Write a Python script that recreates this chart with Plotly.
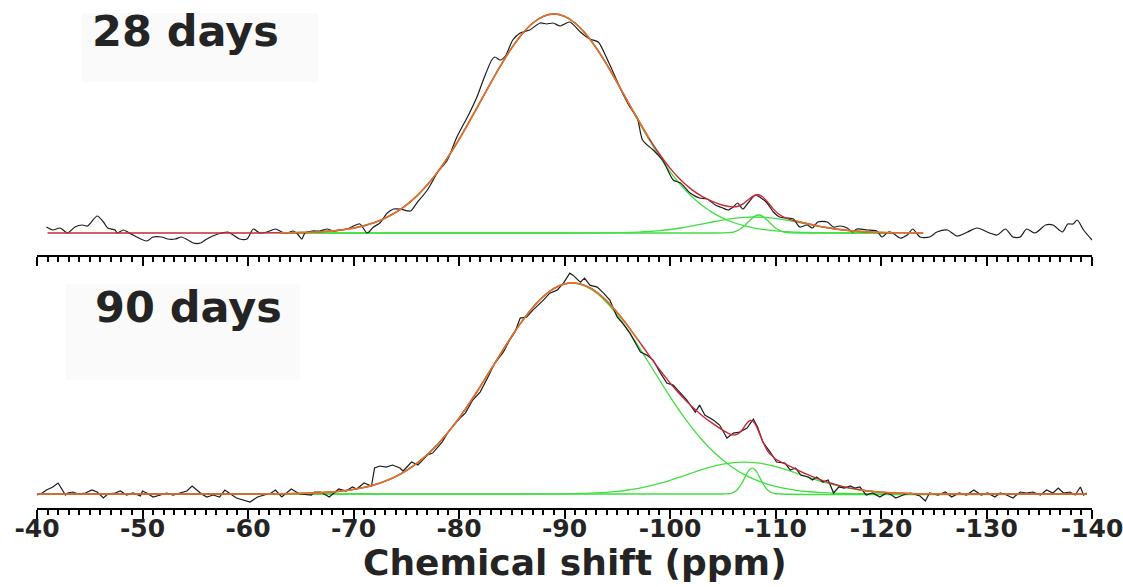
import plotly.graph_objects as go

# ---------------- 28 days (top panel) ----------------
exp28_ppm = [-40.9, -41.5, -42.2, -42.9, -43.6, -44.3, -44.8, -45.7, -46.3, -46.7, -47.4, -47.6, -48.2, -48.6,
             -49.1, -50.4, -51.0, -51.8, -52.4, -53.1, -53.7, -54.3, -54.8, -55.5, -56.1, -56.9, -57.5, -58.1,
             -58.6, -59.2, -59.9, -60.5, -61.1, -61.8, -62.6, -63.2, -63.7, -64.3, -64.7, -65.1, -65.4, -66.1,
             -66.8, -67.5, -68.1, -68.7, -69.4, -70.0, -70.6, -71.3, -71.9, -72.5, -73.2, -73.8, -74.4, -75.4,
             -76.0, -77.0, -78.0, -78.9, -79.8, -80.9, -81.7, -82.3, -83.1, -83.4, -83.9, -84.4, -85.1, -85.8,
             -86.7, -87.7, -88.3, -88.9, -89.6, -90.5, -91.5, -92.4, -93.2, -94.0, -94.6, -95.5, -96.2, -96.9,
             -97.4, -98.4, -99.3, -100.3, -101.0, -101.9, -102.8, -103.5, -104.3, -105.0, -105.5, -106.0, -106.4,
             -106.9, -107.4, -108.1, -108.5, -109.2, -109.8, -110.4, -111.1, -111.7, -112.3, -113.0, -113.5,
             -114.0, -114.9, -115.5, -116.1, -116.8, -117.3, -117.7, -118.7, -119.6, -120.1, -120.7, -121.1,
             -121.8, -122.5, -123.0, -123.7, -124.6, -125.3, -126.3, -127.2, -128.2, -129.1, -130.3, -131.0,
             -131.8, -132.5, -133.2, -133.8, -134.6, -135.6, -136.3, -137.2, -137.7, -138.2, -138.6, -139.2, -140.0]
exp28_int = [6, 3, 5, 0, 6, 8, 7, 17, 11, 5, 3, 0, 3, 1,
             -2, -8, -4, -4, -6, -6, -4, -7, -10, -10, -6, -2, 0, 1,
             -2, -6, -6, 4, 0, 1, 4, 1, 0, 2, -1, -6, 0, 2,
             2, 4, 2, 3, 4, 7, 9, 0, 6, 10, 20, 24, 24, 22,
             30, 43, 61, 73, 96, 118, 136, 153, 173, 176, 173, 177, 193, 200,
             203, 210, 209, 210, 207, 211, 201, 194, 191, 175, 161, 140, 126, 115,
             93, 83, 73, 53, 50, 40, 35, 34, 28, 25, 23, 26, 30,
             24, 30, 38, 36, 30, 21, 16, 15, 14, 6, 8, 5,
             11, 11, 6, 7, 5, 1, 4, 3, 2, -4, 1, 0,
             -5, -2, 4, -4, -4, 1, 3, -3, 1, 5, 0, -2,
             4, -4, -4, 4, 0, 8, 8, 1, 9, 9, 13, 3, -7]

fit28_ppm = [-41, -50, -60, -63, -64, -65, -66, -67, -68, -69, -70, -71, -72, -73, -74, -75, -76, -77, -78,
             -79, -80, -81, -82, -83, -84, -85, -86, -87, -88, -89, -90, -91, -92, -93, -94, -95, -96, -97,
             -98, -99, -100, -101, -102, -103, -104, -105, -106, -106.5, -107, -107.5, -108, -108.4, -108.8,
             -109.3, -109.8, -110.3, -111, -112, -113, -114, -115, -116, -117, -118, -119, -120, -121, -122,
             -123, -124]
fit28_int = [0, 0, 0, 0.2, 0.3, 0.5, 0.8, 1.4, 2.1, 3.3, 4.9, 7.3, 10.5, 14.9, 20.6, 27.9, 37.1, 48.2, 61.4,
             76.6, 93.5, 111.9, 130.9, 150.0, 168.4, 185.1, 199.2, 210.0, 216.7, 219.0, 216.7, 210.0, 199.2,
             185.2, 168.6, 150.3, 131.4, 112.8, 95.0, 79.0, 64.9, 53.2, 43.9, 36.8, 31.6, 27.8, 26.1, 27.0,
             29.7, 34.0, 37.5, 38.2, 36.0, 30.3, 23.9, 19.0, 14.9, 11.8, 9.4, 7.1, 5.2, 3.6, 2.4, 1.5, 0.9,
             0.5, 0.3, 0.2, 0.1, 0]

q3_28_ppm = [-63, -65, -67, -68, -69, -70, -71, -72, -73, -74, -75, -76, -77, -78, -79, -80, -81, -82, -83,
             -84, -85, -86, -87, -88, -89, -90, -91, -92, -93, -94, -95, -96, -97, -98, -99, -100, -101, -102,
             -103, -104, -105, -106, -107, -108, -109, -110, -111, -112, -113, -114, -116, -118, -121]
q3_28_int = [0.2, 0.5, 1.4, 2.1, 3.3, 4.9, 7.3, 10.5, 14.9, 20.6, 27.9, 37.1, 48.2, 61.4, 76.6, 93.5, 111.9,
             130.9, 150.0, 168.4, 185.1, 199.2, 210.0, 216.7, 219.0, 216.7, 210.0, 199.2, 185.1, 168.4, 150.0,
             130.9, 111.9, 93.5, 76.6, 61.4, 48.2, 37.1, 27.9, 20.6, 14.9, 10.5, 7.3, 4.9, 3.3, 2.1, 1.4, 0.8,
             0.5, 0.3, 0.1, 0, 0]

q4b_28_ppm = [-63, -90, -93, -95, -96, -97, -98, -99, -100, -101, -102, -103, -104, -105, -106, -107, -108,
              -109, -110, -111, -112, -113, -114, -115, -116, -117, -118, -119, -120, -121]
q4b_28_int = [0, 0, 0.1, 0.3, 0.5, 0.9, 1.5, 2.4, 3.5, 5.0, 6.8, 8.9, 11.0, 12.9, 14.6, 15.6, 16.0,
              15.6, 14.6, 12.9, 11.0, 8.9, 6.8, 5.0, 3.5, 2.4, 1.5, 0.9, 0.5, 0.3]

q4n_28_ppm = [-63, -104, -105.5, -106, -106.5, -107, -107.5, -108, -108.4, -108.8, -109.3, -109.8, -110.3,
              -110.8, -111.5, -113, -121]
q4n_28_int = [0, 0, 0.3, 1.0, 3.0, 6.8, 12.0, 16.6, 18.0, 16.6, 12.0, 6.8, 3.0, 1.0, 0.2, 0, 0]

# ---------------- 90 days (bottom panel) ----------------
exp90_ppm = [-40.0, -40.5, -40.9, -41.5, -42.0, -42.4, -42.7, -42.9, -43.4, -43.9, -44.6, -45.2, -45.7, -46.3,
             -46.7, -47.4, -47.9, -48.5, -49.1, -49.8, -50.0, -50.4, -51.0, -51.7, -52.3, -52.9, -53.6, -54.2,
             -54.7, -55.2, -55.6, -56.1, -56.7, -57.3, -57.8, -58.9, -60.2, -60.9, -62.2, -62.6, -63.2, -64.1,
             -64.9, -66.0, -66.3, -66.9, -67.7, -68.6, -69.3, -69.9, -70.3, -71.0, -71.7, -72.0, -72.5, -73.1,
             -73.7, -74.4, -74.7, -75.5, -76.1, -77.0, -77.5, -78.4, -79.1, -80.1, -80.6, -81.3, -82.0, -82.7,
             -83.4, -84.2, -84.8, -85.3, -85.8, -86.4, -87.0, -88.0, -88.6, -89.3, -89.9, -90.5, -90.8, -91.5,
             -91.9, -92.4, -93.1, -93.7, -94.3, -95.0, -95.5, -96.2, -96.9, -97.2, -97.8, -98.4, -99.1, -99.7,
             -100.3, -101.0, -101.6, -102.4, -102.8, -103.3, -104.1, -104.7, -105.4, -106.0, -106.6, -107.3,
             -107.9, -108.3, -108.8, -109.5, -110.1, -110.9, -111.4, -111.9, -112.4, -113.1, -113.5, -113.9,
             -114.5, -115.0, -115.5, -116.0, -116.5, -117.1, -117.5, -118.0, -118.6, -119.2, -119.9, -120.5,
             -121.0, -121.4, -122.1, -122.8, -123.7, -124.2, -124.6, -125.4, -126.1, -126.7, -127.4, -128.1,
             -128.8, -129.5, -130.1, -130.8, -131.3, -131.9, -132.5, -133.2, -133.8, -134.4, -135.1, -135.7,
             -136.3, -136.8, -137.3, -137.9, -138.4, -138.9, -139.2, -139.5]
exp90_int = [-1, 1, 4, 7, 11, 4, -1, 1, 2, 0, 1, 4, 2, -4,
             0, 1, 3, -1, 1, -2, 3, 1, -3, -1, 1, -1, 1, 3,
             8, 4, 0, -3, -1, -3, 4, -4, -8, -3, 1, 4, -3, 5,
             0, -1, 2, 2, -3, 5, 3, 7, 5, 11, 8, 26, 28, 27,
             29, 26, 23, 32, 29, 39, 41, 52, 64, 76, 81, 94, 102, 116,
             131, 142, 154, 162, 176, 177, 184, 194, 201, 204, 211, 221, 219, 212,
             216, 209, 207, 201, 194, 177, 171, 161, 147, 142, 139, 134, 121, 111,
             109, 101, 94, 82, 89, 79, 74, 69, 56, 61, 62, 66,
             75, 67, 52, 42, 32, 31, 24, 26, 19, 17, 14, 17,
             12, 14, 1, 7, 6, 8, 6, 7, -1, 1, -3, 1,
             -1, -4, -1, 1, -2, -7, 1, -1, 2, -3, 1, -1,
             4, -1, 1, -3, 1, -1, -4, 2, 1, 2, -1, 4,
             1, 6, 1, 2, -1, 7, -1, 1]

fit90_ppm = [-40, -50, -60, -62, -64, -66, -67, -68, -69, -70, -71, -72, -73, -74, -75, -76, -77, -78, -79,
             -80, -81, -82, -83, -84, -85, -86, -87, -88, -89, -90, -91, -92, -93, -94, -95, -96, -97, -98,
             -99, -100, -101, -102, -103, -104, -105, -105.8, -106.3, -106.8, -107.3, -107.55, -107.8, -108.05,
             -108.3, -108.8, -109.3, -109.8, -110, -111, -112, -113, -114, -115, -116, -117, -118, -119, -120,
             -121, -122, -123, -124, -125, -130, -139.5]
fit90_int = [0, 0, 0, 0.1, 0.4, 0.9, 1.4, 2.1, 3.2, 4.6, 6.6, 9.3, 12.9, 17.5, 23.4, 30.7, 39.5, 50.0, 62.2,
             75.9, 91.1, 107.3, 124.3, 141.3, 157.9, 173.2, 186.7, 197.7, 205.7, 210.3, 211.2, 208.5, 202.4,
             193.2, 181.6, 168.2, 153.7, 139.0, 124.7, 111.2, 99.0, 88.3, 78.9, 70.9, 63.9, 59.5, 59.4, 63.6,
             71.0, 73.4, 73.3, 70.5, 65.2, 52.4, 42.3, 37.1, 35.0, 29.6, 24.5, 19.7, 15.4, 11.7, 8.6, 6.1,
             4.3, 2.9, 1.8, 1.1, 0.7, 0.4, 0.2, 0.1, 0, 0]

q3_90_ppm = [-40, -60, -62, -64, -66] + [-67 - i for i in range(52)] + [-120, -139.5]
q3_90_int = [0, 0, 0.1, 0.4, 0.9,
             1.4, 2.1, 3.2, 4.6, 6.6, 9.3, 12.9, 17.5, 23.4, 30.7, 39.5, 50.0, 62.2, 75.9, 91.1, 107.3, 124.3,
             141.3, 157.9, 173.2, 186.7, 197.7, 205.6, 210.1, 210.8, 207.8, 201.3, 191.5, 178.9, 164.2, 148.0,
             131.1, 114.1, 97.5, 81.8, 67.5, 54.6, 43.5, 34.0, 26.1, 19.7, 14.6, 10.6, 7.6, 5.3, 3.7, 2.5,
             1.7, 1.1, 0.7, 0.4, 0.3,
             0.1, 0]

q4b_90_ppm = [-40, -86] + [-89 - i for i in range(37)] + [-139.5]
q4b_90_int = [0, 0,
              0.1, 0.2, 0.4, 0.7, 1.1, 1.7, 2.7, 4.0, 5.7, 7.9, 10.6, 13.7, 17.2, 20.8, 24.3, 27.4, 29.9,
              31.5, 32.0, 31.5, 29.9, 27.4, 24.3, 20.8, 17.2, 13.7, 10.6, 7.9, 5.7, 4.0, 2.7, 1.7, 1.1, 0.7,
              0.4, 0.2, 0.1,
              0]

q4n_90_ppm = [-40, -105, -105.8, -106.3, -106.8, -107.3, -107.55, -107.8, -108.05, -108.3, -108.8, -109.3,
              -109.8, -110.5, -139.5]
q4n_90_int = [0, 0, 0.7, 3.5, 10.7, 20.8, 24.6, 26.0, 24.6, 20.8, 10.7, 3.5, 0.7, 0, 0]

x_ticks = [-40, -50, -60, -70, -80, -90, -100, -110, -120, -130, -140]
panel_labels = ["28 days", "90 days"]
x_title = "Chemical shift (ppm)"

# ---------------- styling ----------------
BLACK = "#1c1c1c"
GREEN = "#3fe03f"
RED = "#c8283a"
ORANGE = "#df7330"
TXT = "#242424"
FONT = "DejaVu Sans"


def segment(xs, ys, keep):
    return [y if keep(x) else None for x, y in zip(xs, ys)]


fig = go.Figure()


def add_panel(xa, ya, comps, exp_x, exp_y, fit_x, fit_y, orange_keep, smooth_exp):
    for cx, cy in comps:
        fig.add_trace(go.Scatter(x=cx, y=cy, mode="lines", xaxis=xa, yaxis=ya,
                                 line=dict(color=GREEN, width=1.3, shape="spline", smoothing=0.8),
                                 showlegend=False, hoverinfo="skip"))
    fig.add_trace(go.Scatter(x=exp_x, y=exp_y, mode="lines", xaxis=xa, yaxis=ya,
                             line=dict(color=BLACK, width=1.2,
                                       shape="spline" if smooth_exp else "linear", smoothing=0.7),
                             showlegend=False, hoverinfo="skip"))
    fig.add_trace(go.Scatter(x=fit_x, y=fit_y, mode="lines", xaxis=xa, yaxis=ya,
                             line=dict(color=RED, width=1.4, shape="spline", smoothing=0.8),
                             showlegend=False, hoverinfo="skip"))
    fig.add_trace(go.Scatter(x=fit_x, y=segment(fit_x, fit_y, orange_keep), mode="lines",
                             xaxis=xa, yaxis=ya, connectgaps=False,
                             line=dict(color=ORANGE, width=1.6, shape="spline", smoothing=0.8),
                             showlegend=False, hoverinfo="skip"))


add_panel("x", "y",
          [(q3_28_ppm, q3_28_int), (q4b_28_ppm, q4b_28_int), (q4n_28_ppm, q4n_28_int)],
          exp28_ppm, exp28_int, fit28_ppm, fit28_int,
          lambda x: (-98 <= x <= -63) or x <= -112, True)
add_panel("x2", "y2",
          [(q3_90_ppm, q3_90_int), (q4b_90_ppm, q4b_90_int), (q4n_90_ppm, q4n_90_int)],
          exp90_ppm, exp90_int, fit90_ppm, fit90_int,
          lambda x: x >= -97 or x <= -118, False)

axis_common = dict(range=[-40, -140], showline=True, linewidth=2, linecolor="black",
                   ticks="outside", ticklen=9, tickwidth=2, tickcolor="black",
                   tickmode="array", tickvals=x_ticks,
                   minor=dict(dtick=1, tick0=-40, ticks="outside", ticklen=5, tickwidth=1.5,
                              tickcolor="black", showgrid=False),
                   showgrid=False, zeroline=False, fixedrange=True)

fig.update_layout(
    width=1123, height=587,
    margin=dict(l=37, r=31, t=0, b=79),
    paper_bgcolor="white", plot_bgcolor="rgba(0,0,0,0)",
    xaxis=dict(**axis_common, domain=[0, 1], anchor="y", showticklabels=False),
    yaxis=dict(domain=[0.498, 1.0], range=[-22, 233], visible=False, fixedrange=True),
    xaxis2=dict(**axis_common, domain=[0, 1], anchor="y2", showticklabels=True,
                ticktext=[str(v) for v in x_ticks], ticklabeloverflow="allow",
                ticklabelstandoff=-12,
                tickfont=dict(family=FONT, size=25, color=TXT, weight="bold")),
    yaxis2=dict(domain=[0, 0.478], range=[-14, 229], visible=False, fixedrange=True),
    showlegend=False,
)

# faint background boxes behind the panel labels
fig.add_shape(type="rect", xref="paper", yref="paper", layer="below",
              x0=(82 - 37) / 1055, x1=(318 - 37) / 1055, y0=(508 - 82) / 508, y1=(508 - 13) / 508,
              fillcolor="#fafafa", line=dict(width=0))
fig.add_shape(type="rect", xref="paper", yref="paper", layer="below",
              x0=(66 - 37) / 1055, x1=(300 - 37) / 1055, y0=(508 - 380) / 508, y1=(508 - 284) / 508,
              fillcolor="#fafafa", line=dict(width=0))

fig.add_annotation(text=panel_labels[0], xref="paper", yref="paper", x=0.050, y=0.938,
                   xanchor="left", yanchor="middle", showarrow=False,
                   font=dict(family=FONT, size=43, color=TXT, weight="bold"))
fig.add_annotation(text=panel_labels[1], xref="paper", yref="paper", x=0.053, y=0.3947,
                   xanchor="left", yanchor="middle", showarrow=False,
                   font=dict(family=FONT, size=43, color=TXT, weight="bold"))
fig.add_annotation(text=x_title, xref="paper", yref="paper", x=0.510, y=-0.108,
                   xanchor="center", yanchor="middle", showarrow=False,
                   font=dict(family=FONT, size=36, color=TXT, weight="bold"))

fig.write_html("out.html", config={"displayModeBar": False},
               post_script="document.body.style.margin='0px';document.body.style.overflow='hidden';")
